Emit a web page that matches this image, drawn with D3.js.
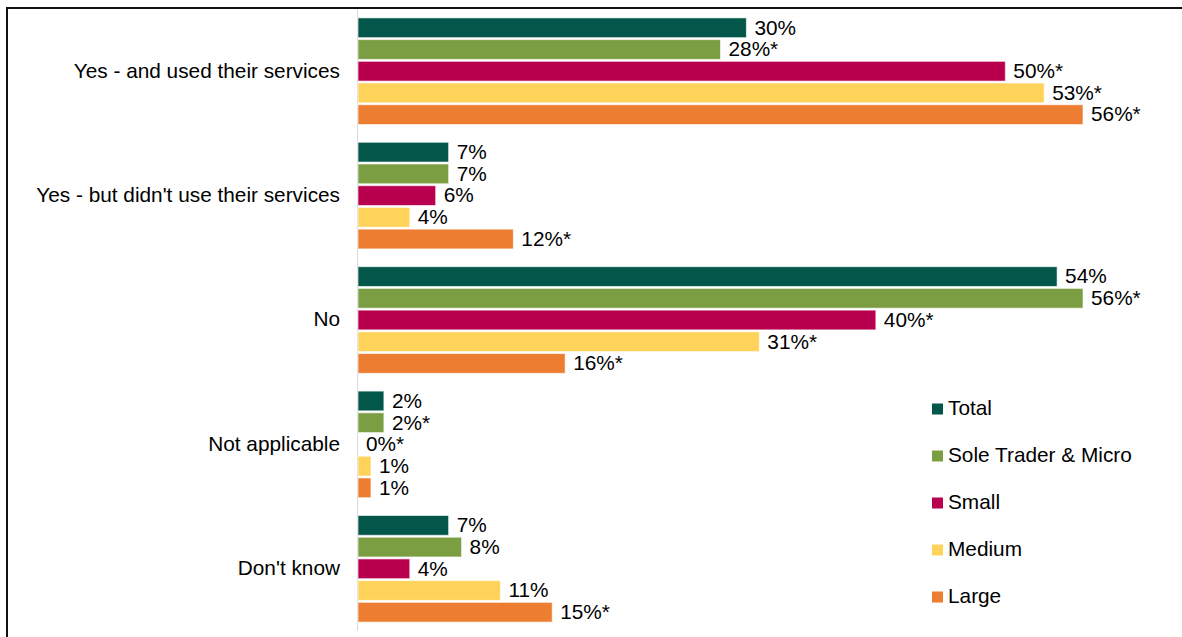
<!DOCTYPE html>
<html>
<head>
<meta charset="utf-8">
<script src="https://cdn.jsdelivr.net/npm/d3@7"></script>
<style>
  html, body { margin: 0; padding: 0; background: #fff; }
  svg { display: block; font-family: "Liberation Sans", Arial, sans-serif; }
</style>
</head>
<body>
<svg id="chart" width="1182" height="637"></svg>
<script>
// Answer categories (rows), top to bottom
const categories = [
  "Yes - and used their services",
  "Yes - but didn't use their services",
  "No",
  "Not applicable",
  "Don't know"
];

// Business-size series
const seriesNames = ["Total", "Sole Trader & Micro", "Small", "Medium", "Large"];
const seriesColors = ["#03574a", "#7a9e41", "#b8004f", "#ffd35a", "#ed7d31"];

// Percentages per series, in category order
const totalValues  = [30, 7, 54, 2, 7];
const soleValues   = [28, 7, 56, 2, 8];
const smallValues  = [50, 6, 40, 0, 4];
const mediumValues = [53, 4, 31, 1, 11];
const largeValues  = [56, 12, 16, 1, 15];

// Significance markers shown after the value labels
const totalStars  = ["", "", "", "", ""];
const soleStars   = ["*", "", "*", "*", ""];
const smallStars  = ["*", "", "*", "*", ""];
const mediumStars = ["*", "", "*", "", ""];
const largeStars  = ["*", "*", "*", "", "*"];

const seriesValues = [totalValues, soleValues, smallValues, mediumValues, largeValues];
const seriesStars = [totalStars, soleStars, smallStars, mediumStars, largeStars];

const FONT = 20.8;
const svg = d3.select("#chart");

// Outer frame
svg.append("rect")
  .attr("x", 7).attr("y", 8)
  .attr("width", 1190).attr("height", 640)
  .attr("fill", "none")
  .attr("stroke", "#111")
  .attr("stroke-width", 2);

const x0 = 358;
const x = d3.scaleLinear().domain([0, 56]).range([x0, 1083]);

const y = d3.scaleBand()
  .domain(categories)
  .range([9, 631])
  .paddingInner(0.143)
  .paddingOuter(0.0715);

const ySub = d3.scaleBand()
  .domain(seriesNames)
  .range([0, y.bandwidth()])
  .paddingInner(0.09)
  .paddingOuter(0);

// Category axis line
svg.append("line")
  .attr("x1", x0 - 0.5).attr("x2", x0 - 0.5)
  .attr("y1", 9).attr("y2", 631)
  .attr("stroke", "#d9d9d9")
  .attr("stroke-width", 1);

// Category labels
svg.append("g")
  .selectAll("text")
  .data(categories)
  .join("text")
  .attr("x", 340)
  .attr("y", d => y(d) + y.bandwidth() / 2)
  .attr("dy", "0.31em")
  .attr("text-anchor", "end")
  .attr("font-size", FONT)
  .attr("fill", "#000")
  .text(d => d);

// Bars and value labels
const rows = [];
categories.forEach((c, ci) => {
  seriesNames.forEach((s, si) => {
    rows.push({ c, s, si, v: seriesValues[si][ci], star: seriesStars[si][ci] });
  });
});

const groups = svg.append("g");

groups.selectAll("rect")
  .data(rows.filter(d => d.v > 0))
  .join("rect")
  .attr("x", x0)
  .attr("y", d => y(d.c) + ySub(d.s))
  .attr("width", d => x(d.v) - x0)
  .attr("height", ySub.bandwidth())
  .attr("fill", d => seriesColors[d.si])
  .attr("stroke", "#ffffff")
  .attr("stroke-opacity", 0.6)
  .attr("stroke-width", 1);

groups.selectAll("text")
  .data(rows)
  .join("text")
  .attr("x", d => x(d.v) + 8)
  .attr("y", d => y(d.c) + ySub(d.s) + ySub.bandwidth() / 2)
  .attr("dy", "0.33em")
  .attr("font-size", FONT)
  .attr("fill", "#000")
  .text(d => d.v + "%" + d.star);

// Legend
const legend = svg.append("g");
const legendY = d3.scalePoint().domain(seriesNames).range([409, 597]);
const item = legend.selectAll("g")
  .data(seriesNames)
  .join("g")
  .attr("transform", d => `translate(932,${legendY(d)})`);
item.append("rect")
  .attr("x", 0).attr("y", -5.5)
  .attr("width", 11).attr("height", 11)
  .attr("fill", (d, i) => seriesColors[i]);
item.append("text")
  .attr("x", 16)
  .attr("dy", "0.31em")
  .attr("font-size", FONT)
  .attr("fill", "#000")
  .text(d => d);
</script>
</body>
</html>
